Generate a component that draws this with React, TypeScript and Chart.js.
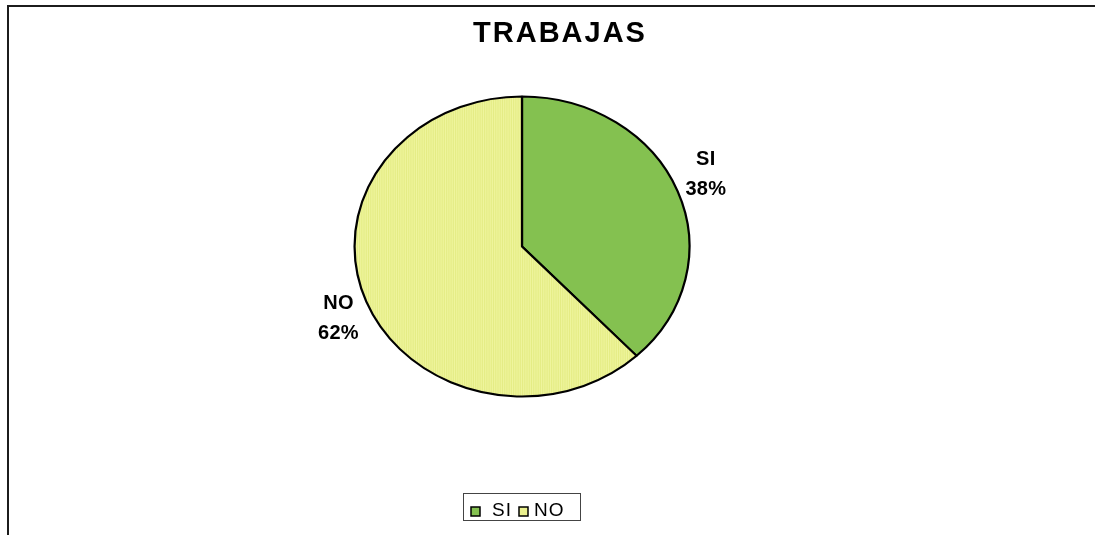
import React, { useEffect, useRef } from "react";
import { Chart, registerables } from "chart.js";

Chart.register(...registerables);

const TITLE = "TRABAJAS";
const categories = ["SI", "NO"];
const values = [38, 62];
const sliceColors = ["#84C150", "#EAF08E"];

const W = 1095;
const H = 535;
const SX = 168 / 150.5; // horizontal stretch of the pie (ellipse)
const FONT = "'Liberation Sans', Arial, sans-serif";

function makeStripe(ctx: CanvasRenderingContext2D) {
  const off = document.createElement("canvas");
  off.width = 2;
  off.height = 1;
  const o = off.getContext("2d")!;
  o.fillStyle = "#E4EC84";
  o.fillRect(0, 0, 1, 1);
  o.fillStyle = "#EFF59E";
  o.fillRect(1, 0, 1, 1);
  return ctx.createPattern(off, "repeat");
}

function drawSpaced(
  ctx: CanvasRenderingContext2D,
  text: string,
  cx: number,
  y: number,
  spacing: number
) {
  (ctx as any).letterSpacing = spacing + "px";
  const w = ctx.measureText(text).width - spacing;
  ctx.textAlign = "left";
  ctx.fillText(text, cx - w / 2, y);
  (ctx as any).letterSpacing = "0px";
}

const ellipsePlugin = {
  id: "ellipse",
  beforeDatasetsDraw(chart: any) {
    const arc = chart.getDatasetMeta(0).data[0];
    const ctx = chart.ctx;
    ctx.save();
    ctx.translate(arc.x, arc.y);
    ctx.scale(SX, 1);
    ctx.translate(-arc.x, -arc.y);
  },
  afterDatasetsDraw(chart: any) {
    chart.ctx.restore();
  },
};

const decorPlugin = {
  id: "decor",
  afterDraw(chart: any) {
    const ctx: CanvasRenderingContext2D = chart.ctx;
    ctx.save();
    // frame
    ctx.fillStyle = "#1c1c1c";
    ctx.fillRect(7, 5, W - 7, 2);
    ctx.fillRect(7, 5, 2, H - 5);

    // title
    ctx.fillStyle = "#000";
    ctx.textBaseline = "alphabetic";
    ctx.font = `bold 29px ${FONT}`;
    drawSpaced(ctx, TITLE, 559, 42, 2);

    // data labels
    const meta = chart.getDatasetMeta(0);
    const total = values.reduce((a, b) => a + b, 0);
    ctx.font = `bold 20px ${FONT}`;
    ctx.textBaseline = "middle";
    meta.data.forEach((el: any, i: number) => {
      const mid = (el.startAngle + el.endAngle) / 2;
      const r = el.outerRadius;
      const lx = el.x + Math.cos(mid) * r * SX * 1.18;
      const ly = el.y + Math.sin(mid) * r * 1.31;
      drawSpaced(ctx, categories[i], lx, ly - 15, 0.3);
      drawSpaced(ctx, Math.round((values[i] / total) * 100) + "%", lx, ly + 15, 0.3);
    });

    // legend
    ctx.strokeStyle = "#444";
    ctx.lineWidth = 1;
    ctx.strokeRect(463.5, 493.5, 117, 27);
    ctx.font = `19px ${FONT}`;
    ctx.textBaseline = "alphabetic";
    const items = [
      { sx: 471, tx: 492 },
      { sx: 519, tx: 534 },
    ];
    categories.forEach((c, i) => {
      ctx.fillStyle = sliceColors[i];
      ctx.fillRect(items[i].sx, 507, 9, 9);
      ctx.strokeStyle = "#000";
      ctx.lineWidth = 1.5;
      ctx.strokeRect(items[i].sx, 507, 9, 9);
      ctx.fillStyle = "#000";
      (ctx as any).letterSpacing = "1px";
      ctx.textAlign = "left";
      ctx.fillText(c, items[i].tx, 516);
      (ctx as any).letterSpacing = "0px";
    });
    ctx.restore();
  },
};

export default function App() {
  const ref = useRef<HTMLCanvasElement>(null);
  useEffect(() => {
    const canvas = ref.current!;
    const ctx = canvas.getContext("2d")!;
    const stripe = makeStripe(ctx) || sliceColors[1];
    const chart = new Chart(canvas, {
      type: "pie",
      data: {
        labels: categories,
        datasets: [
          {
            data: values,
            backgroundColor: [sliceColors[0], stripe as any],
            borderColor: "#000",
            borderWidth: 2,
            radius: 150,
          } as any,
        ],
      },
      options: {
        responsive: false,
        animation: false,
        layout: { padding: { left: 100, right: 151, top: 50, bottom: 92 } },
        plugins: {
          legend: { display: false },
          title: { display: false },
          tooltip: { enabled: false },
        },
      },
      plugins: [ellipsePlugin, decorPlugin],
    });
    return () => chart.destroy();
  }, []);
  return (
    <div style={{ position: "fixed", left: 0, top: 0, width: W, height: H, background: "#fff" }}>
      <canvas ref={ref} width={W} height={H} style={{ display: "block", width: W, height: H }} />
    </div>
  );
}
